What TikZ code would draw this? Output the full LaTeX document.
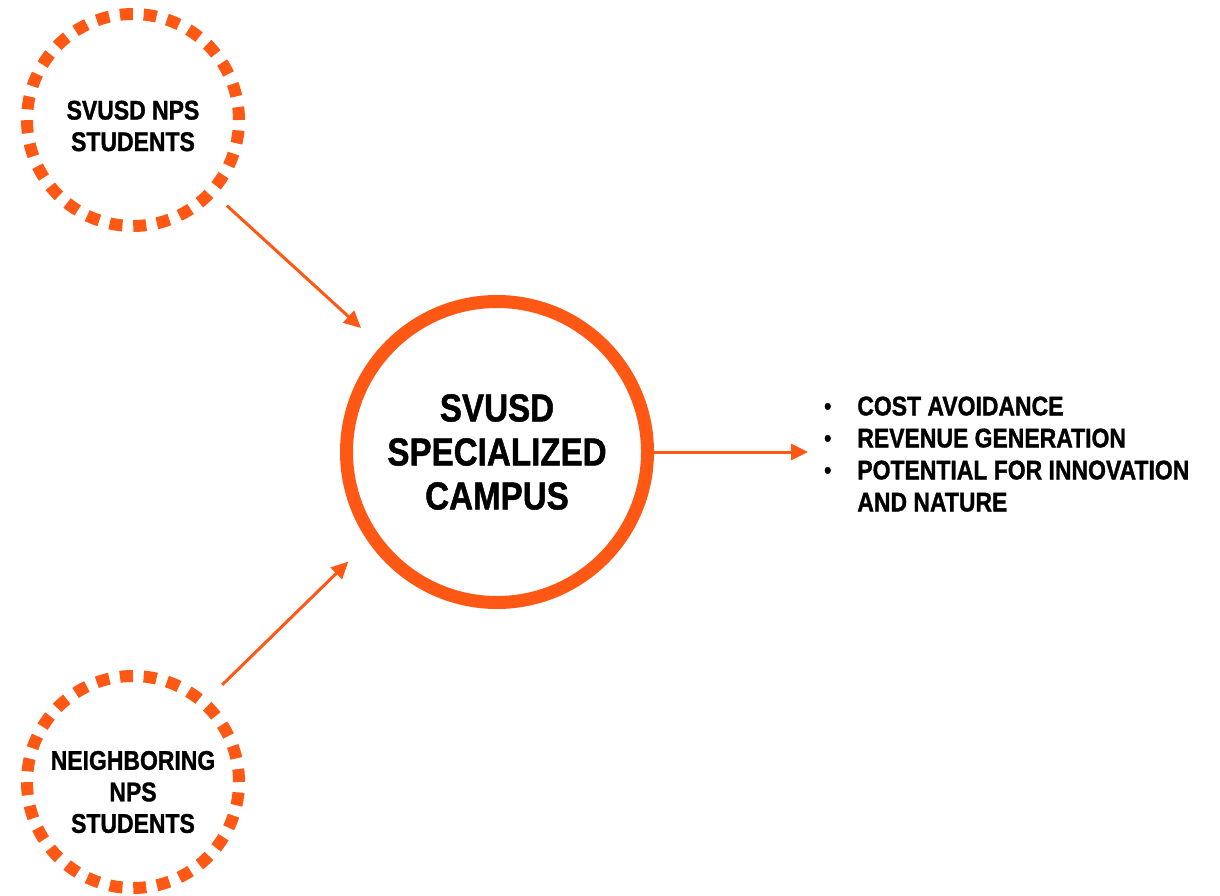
\documentclass[tikz,border=0pt]{standalone}
\usepackage{fontspec}
\setmainfont{Liberation Sans}[FakeStretch=0.85, BoldFeatures={FakeBold=1.2}]
\usetikzlibrary{arrows.meta}
\definecolor{brand}{RGB}{255,87,20}
\begin{document}
\begin{tikzpicture}[x=1pt,y=-1pt,
  src/.style={circle, draw=brand, line width=12pt, dash pattern=on 13pt off 10.8pt,
    minimum size=212pt, inner sep=0pt},
  srctext/.style={align=center, font=\bfseries\fontsize{27}{31.5}\selectfont},
  hub/.style={circle, draw=brand, line width=13pt, minimum size=301pt, inner sep=0pt,
    align=center, font=\bfseries\fontsize{39}{44}\selectfont},
  arr/.style={draw=brand, line width=3pt, -{Triangle[length=17pt,width=16pt]}},
  listnode/.style={font=\bfseries\fontsize{27}{32}\selectfont, inner sep=0pt},
  bul/.style={}
]
\useasboundingbox (0,0) rectangle (1220,896);
\node[src, label={[srctext, yshift=-6pt]center:{SVUSD NPS\\STUDENTS}}] (top) at (133,120) {};
\node[src, label={[srctext, yshift=-10pt]center:{NEIGHBORING\\NPS\\STUDENTS}}] (bot) at (133,782) {};
\node[hub] (main) at (497,452) {SVUSD\\SPECIALIZED\\CAMPUS};
\node[listnode, anchor=west] (list) at (824,457) {%
  \begin{tabular}{@{}l@{\hspace{26pt}}l@{}}
  {\fontsize{24}{32}\selectfont\raisebox{1pt}{•}} & COST AVOIDANCE\\
  {\fontsize{24}{32}\selectfont\raisebox{1pt}{•}} & REVENUE GENERATION\\
  {\fontsize{24}{32}\selectfont\raisebox{1pt}{•}} & POTENTIAL FOR INNOVATION\\
  & AND NATURE
  \end{tabular}};
\draw[arr, shorten <=15pt, shorten >=27pt] (top) -- (main);
\draw[arr, shorten <=20pt, shorten >=28pt] (bot.48) -- (main.215);
\draw[arr, shorten >=16pt] (main.east) -- (main.east -| list.west);
\end{tikzpicture}
\end{document}
